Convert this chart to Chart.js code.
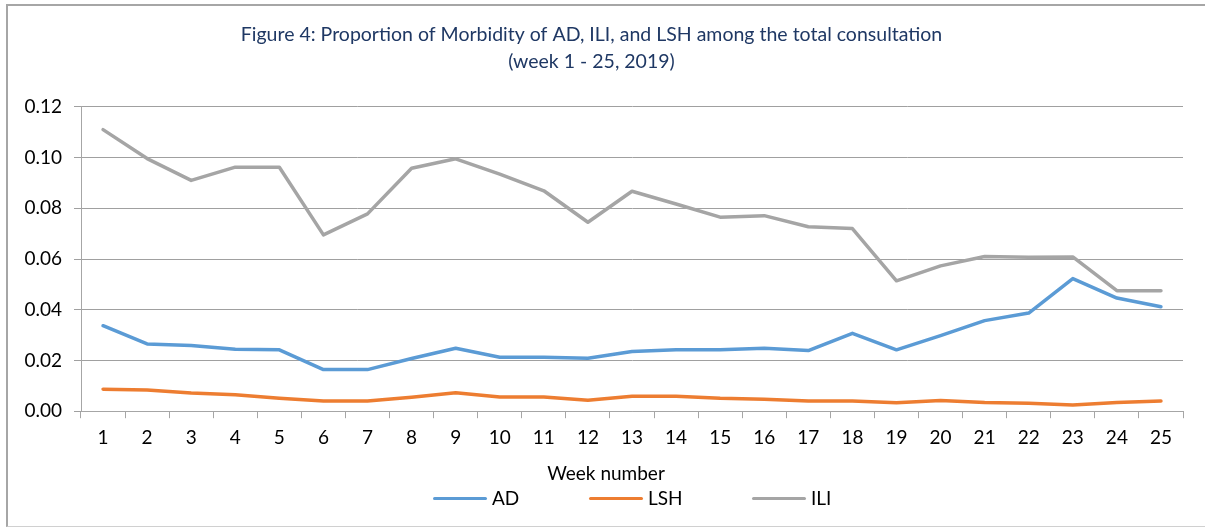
<!DOCTYPE html>
<html>
<head>
<meta charset="utf-8">
<script src="https://cdn.jsdelivr.net/npm/chart.js@4.4.1/dist/chart.umd.min.js"></script>
<style>
  html, body { margin: 0; padding: 0; background: #fff; }
  #frame {
    position: absolute; left: 6px; top: 4px; width: 1199px; height: 523px;
    border-top: 2px solid #a6a6a6; border-left: 2px solid #a6a6a6;
    border-bottom: 1px solid #d0d0d0; box-sizing: border-box;
  }
  #wrap { position: absolute; left: 0; top: 0; width: 1205px; height: 529px; }
  .lbl {
    position: absolute; font-family: Lato, "Noto Sans", sans-serif; font-size: 19px;
    color: #000; line-height: 22px; white-space: nowrap;
  }
  .key { position: absolute; height: 3px; width: 54px; border-radius: 2px; }
</style>
</head>
<body>
<div id="frame"></div>
<div id="wrap"><canvas id="chart"></canvas></div>
<div class="lbl" id="xtitle" style="top:462px; left:0; width:1212px; text-align:center;"></div>
<div id="legend"></div>
<script>
const weeks = ['1','2','3','4','5','6','7','8','9','10','11','12','13','14','15','16','17','18','19','20','21','22','23','24','25'];
const adValues = [0.0337, 0.0265, 0.0259, 0.0244, 0.0242, 0.0164, 0.0164, 0.0208, 0.0248, 0.0213, 0.0213, 0.0209, 0.0235,
  0.0242, 0.0242, 0.0248, 0.0239, 0.0307, 0.0242, 0.0298, 0.0357, 0.0387, 0.0523, 0.0446, 0.0412];
const lshValues = [0.0087, 0.0084, 0.0072, 0.0065, 0.0051, 0.0040, 0.0040, 0.0055, 0.0073, 0.0056, 0.0056, 0.0043, 0.0059,
  0.0059, 0.0051, 0.0047, 0.0040, 0.0040, 0.0033, 0.0042, 0.0034, 0.0031, 0.0024, 0.0034, 0.0040];
const iliValues = [0.111, 0.0996, 0.091, 0.0962, 0.0962, 0.0695, 0.0778, 0.0958, 0.0995, 0.0935, 0.0869, 0.0745, 0.0867,
  0.0817, 0.0765, 0.0771, 0.0727, 0.072, 0.0514, 0.0573, 0.061, 0.0607, 0.0608, 0.0475, 0.0475];
const yTicks = [0, 0.02, 0.04, 0.06, 0.08, 0.10, 0.12];
const xTitle = 'Week number';

const fontFamily = 'Lato, "Noto Sans", sans-serif';

function series(label, data, color) {
  return {
    label: label,
    data: data,
    borderColor: color,
    backgroundColor: color,
    borderWidth: 3.5,
    pointRadius: 0,
    tension: 0,
    borderJoinStyle: 'round',
    borderCapStyle: 'round'
  };
}

const ctx = document.getElementById('chart').getContext('2d');
const chart = new Chart(ctx, {
  type: 'line',
  data: {
    labels: weeks,
    datasets: [
      series('AD', adValues, '#5b9bd5'),
      series('LSH', lshValues, '#ed7d31'),
      series('ILI', iliValues, '#a5a5a5')
    ]
  },
  options: {
    responsive: true,
    maintainAspectRatio: false,
    animation: false,
    layout: { padding: { left: 0, right: 22, top: 21, bottom: 72 } },
    plugins: {
      title: {
        display: true,
        text: ['Figure 4: Proportion of Morbidity of AD, ILI, and LSH among the total consultation', '(week 1 - 25, 2019)'],
        color: '#1f3864',
        font: { family: fontFamily, size: 19.5, weight: 'normal', lineHeight: 1.38 },
        padding: { top: 0, bottom: 32 }
      },
      legend: { display: false },
      tooltip: { enabled: false }
    },
    scales: {
      x: {
        offset: true,
        grid: {
          offset: true,
          drawOnChartArea: false,
          drawTicks: true,
          tickLength: 7,
          color: '#a6a6a6'
        },
        border: { color: '#a6a6a6', width: 1 },
        ticks: {
          color: '#000',
          font: { family: fontFamily, size: 19 },
          padding: 8,
          maxRotation: 0,
          autoSkip: false
        }
      },
      y: {
        min: 0,
        max: 0.12,
        afterFit: function (scale) { scale.width = 81; },
        afterBuildTicks: function (scale) {
          scale.ticks = yTicks.map(v => ({ value: v }));
        },
        grid: {
          color: '#a0a0a0',
          tickLength: 7
        },
        border: { color: '#a6a6a6', width: 1 },
        ticks: {
          color: '#000',
          font: { family: fontFamily, size: 19 },
          padding: 12,
          callback: v => v.toFixed(2)
        }
      }
    }
  }
});

// axis title and legend as page text under the canvas
document.getElementById('xtitle').textContent = xTitle;
const legendLeft = [433, 589, 752];
const legend = document.getElementById('legend');
chart.data.datasets.forEach((ds, i) => {
  const key = document.createElement('div');
  key.className = 'key';
  key.style.left = legendLeft[i] + 'px';
  key.style.top = '497px';
  key.style.background = ds.borderColor;
  legend.appendChild(key);
  const txt = document.createElement('div');
  txt.className = 'lbl';
  txt.style.left = (legendLeft[i] + 59) + 'px';
  txt.style.top = '487px';
  txt.textContent = ds.label;
  legend.appendChild(txt);
});
</script>
</body>
</html>
